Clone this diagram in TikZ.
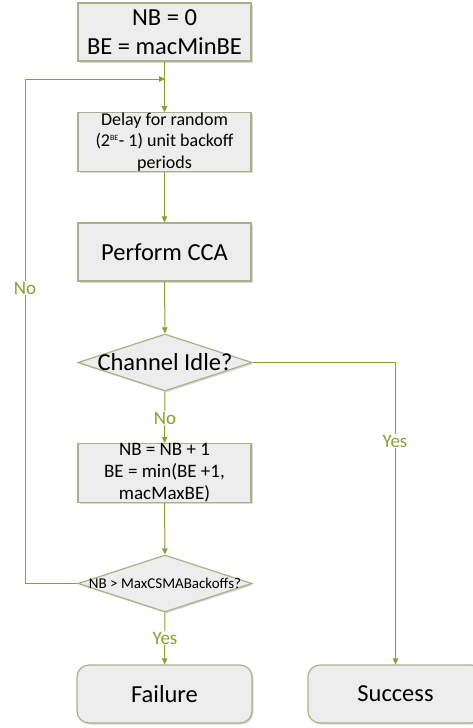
\documentclass[tikz,border=0pt]{standalone}
\usepackage{fontspec}
\setmainfont{Carlito}
\usetikzlibrary{arrows.meta,shapes.geometric,shadows}
\definecolor{linegreen}{HTML}{8A9F2F}
\definecolor{bordercol}{HTML}{A9B08A}
\definecolor{boxfill}{HTML}{EDEDED}
\begin{document}
\begin{tikzpicture}[x=1pt,y=-1pt,
  shade/.style={drop shadow={shadow xshift=1.5pt, shadow yshift=-1.5pt, opacity=0.25, fill=black!60}},
  stepbox/.style={draw=bordercol, fill=boxfill, line width=1.2pt, minimum width=173pt, minimum height=58pt, inner sep=0pt, align=center, shade},
  endbox/.style={stepbox, rounded corners=12pt, minimum width=175pt},
  dia/.style={diamond, draw=bordercol, fill=boxfill, line width=1.2pt, minimum width=174pt, minimum height=57pt, inner sep=0pt, shade},
  conn/.style={draw=linegreen, line width=1pt, -{Triangle[length=6pt,width=5.5pt]}},
  plain/.style={draw=linegreen, line width=1pt},
  lab/.style={text=linegreen, fill=white, font=\fontsize{19}{19}\selectfont, inner sep=1pt},
  big/.style={font=\fontsize{24.5}{29}\selectfont},
  mid/.style={font=\fontsize{18}{21.5}\selectfont},
  mid2/.style={font=\fontsize{19}{22}\selectfont}]
\useasboundingbox (0,0) rectangle (472,728);

\node[stepbox, big] (b1) at (164.5,32) {NB = 0\\BE = macMinBE};
\node[stepbox, mid] (b2) at (164.5,142) {Delay for random\\(2\textsuperscript{\fontsize{8}{8}\selectfont BE}- 1) unit backoff\\periods};
\node[stepbox, big] (b3) at (164.5,252) {Perform CCA};
\node[dia] (d1) at (165,362.5) {};
\node[big] (d1t) at (d1.center) {Channel Idle?};
\node[stepbox, mid2] (b4) at (164.5,473) {NB = NB + 1\\BE = min(BE +1,\\macMaxBE)};
\node[dia] (d2) at (165,583.5) {};
\node[font=\fontsize{15}{15}\selectfont] (d2t) at (d2.center) {NB > MaxCSMABackoffs?};
\node[endbox, big] (fail) at (164.5,694) {Failure};
\node[endbox, big] (succ) at (395.5,694) {Success};

\coordinate (join) at (165,79);
\coordinate (looptop) at (25,79);
\coordinate (loopbot) at (25,583.5);

\draw[conn] (b1) -- (b2);
\draw[conn] (b2) -- (b3);
\draw[conn] (b3) -- (d1);
\draw[conn] (d1) -- (b4);
\draw[conn] (b4) -- (d2);
\draw[conn] (d2) -- (fail);
\draw[conn] (d1.east) -| (succ.north);
\draw[conn] (d2.west) -- (loopbot) -- (looptop) -- (join);

\node[lab] (no1) at (25,288) {No};
\node[lab] (no2) at (165,418) {No};
\node[lab] (yes1) at (395,441) {Yes};
\node[lab] (yes2) at (165,638) {Yes};
\end{tikzpicture}
\end{document}
